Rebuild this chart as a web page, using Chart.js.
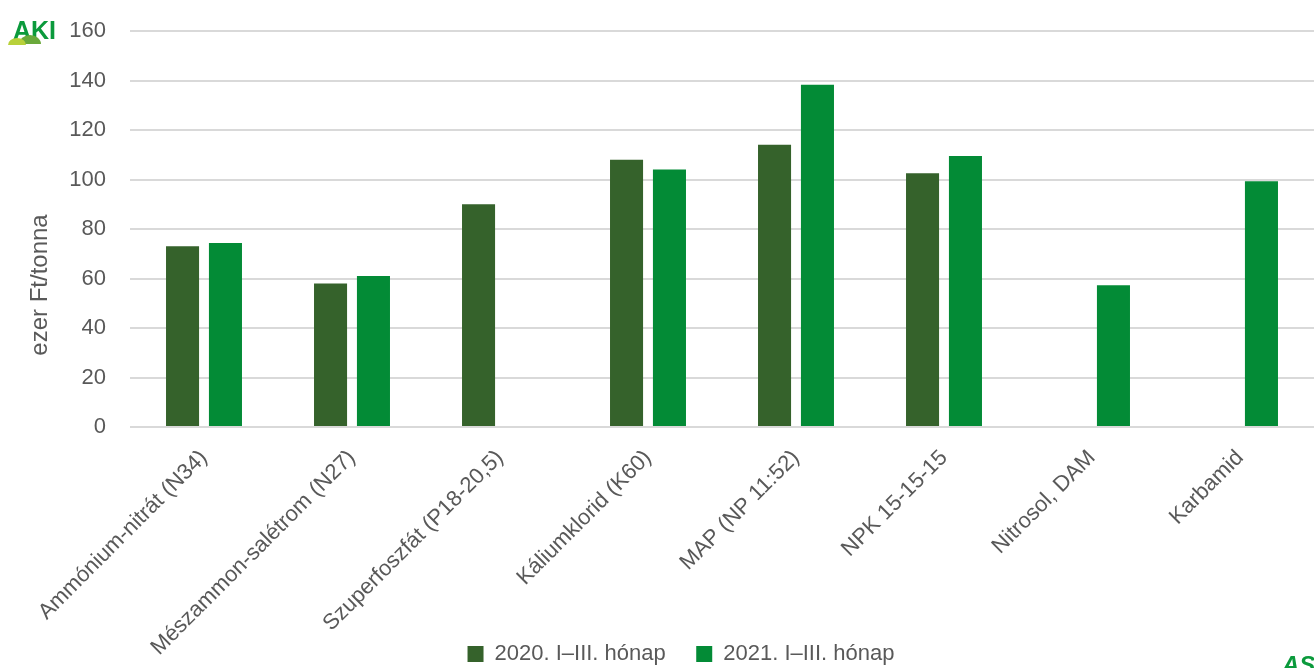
<!DOCTYPE html>
<html>
<head>
<meta charset="utf-8">
<script src="https://cdn.jsdelivr.net/npm/chart.js@4/dist/chart.umd.min.js"></script>
<style>
  html, body { margin: 0; padding: 0; background: #fff; }
  #wrap { width: 1314px; height: 668px; position: relative; }
</style>
</head>
<body>
<div id="wrap"><canvas id="chart"></canvas></div>
<script>
const categories = [
  'Ammónium-nitrát (N34)',
  'Mészammon-salétrom (N27)',
  'Szuperfoszfát (P18-20,5)',
  'Káliumklorid (K60)',
  'MAP (NP 11:52)',
  'NPK 15-15-15',
  'Nitrosol, DAM',
  'Karbamid'
];
const series2020 = [73, 58, 90, 108, 114, 102.5, null, null];
const series2021 = [74.3, 61, null, 104, 138.3, 109.5, 57.3, 99.3];
const seriesNames = ['2020. I–III. hónap', '2021. I–III. hónap'];
const yTitle = 'ezer Ft/tonna';

const textColor = '#595959';
const fontFamily = '"Liberation Sans", Arial, sans-serif';

// let the rotated x labels run to the bottom edge, and put the legend where the original has it
const layoutFix = {
  id: 'layoutFix',
  afterLayout(chart) {
    chart.scales.x.bottom = chart.height;
    const lg = chart.legend;
    const dy = 637 - lg.top;
    lg.top += dy;
    lg.bottom += dy;
    lg.left += 24;
    lg.right += 24;
  }
};

// logos and the y title drawn by hand
const extrasPlugin = {
  id: 'extras',
  afterDraw(chart) {
    const ctx = chart.ctx;
    ctx.save();
    ctx.fillStyle = textColor;
    ctx.font = '24px ' + fontFamily;
    ctx.textAlign = 'center';
    ctx.textBaseline = 'middle';
    ctx.translate(40, 285);
    ctx.rotate(-Math.PI / 2);
    ctx.fillText(yTitle, 0, 0);
    ctx.restore();

    ctx.save();
    ctx.textBaseline = 'alphabetic';
    ctx.fillStyle = '#0b9a3c';
    ctx.font = 'bold 25px ' + fontFamily;
    ctx.fillText('AKI', 13, 39);
    ctx.fillStyle = '#6aa93b';
    ctx.beginPath();
    ctx.ellipse(30, 44, 11, 9, 0, Math.PI, 0);
    ctx.fill();
    ctx.fillStyle = '#b8d13a';
    ctx.beginPath();
    ctx.ellipse(17, 45, 9, 7, 0, Math.PI, 0);
    ctx.fill();
    // partial logo bottom-right
    ctx.fillStyle = '#0b9a3c';
    ctx.font = 'italic bold 24px ' + fontFamily;
    ctx.fillText('AS', 1282, 673);
    ctx.restore();
  }
};

new Chart(document.getElementById('chart'), {
  type: 'bar',
  data: {
    labels: categories,
    datasets: [
      {
        label: seriesNames[0],
        data: series2020,
        backgroundColor: '#35622b',
        categoryPercentage: 0.58,
        barPercentage: 0.77
      },
      {
        label: seriesNames[1],
        data: series2021,
        backgroundColor: '#038b36',
        categoryPercentage: 0.58,
        barPercentage: 0.77
      }
    ]
  },
  options: {
    responsive: true,
    maintainAspectRatio: false,
    animation: false,
    layout: { padding: { top: 31, right: 0, left: 0, bottom: 0 } },
    plugins: {
      legend: {
        position: 'bottom',
        labels: {
          color: textColor,
          boxWidth: 16,
          boxHeight: 16,
          padding: 6,
          font: { size: 22, family: fontFamily },
          generateLabels(chart) {
            const items = Chart.defaults.plugins.legend.labels.generateLabels(chart);
            items[0].text = items[0].text + '    ';
            return items;
          }
        }
      },
      tooltip: { enabled: false }
    },
    scales: {
      x: {
        grid: { display: false },
        border: { display: false },
        ticks: {
          color: textColor,
          maxRotation: 45,
          minRotation: 45,
          padding: 10,
          font: { size: 22, family: fontFamily }
        },
        afterFit(scale) { scale.height = 203; }
      },
      y: {
        min: 0,
        max: 160,
        ticks: {
          stepSize: 20,
          color: textColor,
          padding: 0,
          font: { size: 22, family: fontFamily }
        },
        grid: {
          color: '#d9d9d9',
          lineWidth: 2,
          drawTicks: true,
          tickLength: 24,
          tickColor: 'rgba(0,0,0,0)'
        },
        border: { display: false },
        afterFit(scale) { scale.width = 130; }
      }
    }
  },
  plugins: [layoutFix, extrasPlugin]
});
</script>
</body>
</html>
